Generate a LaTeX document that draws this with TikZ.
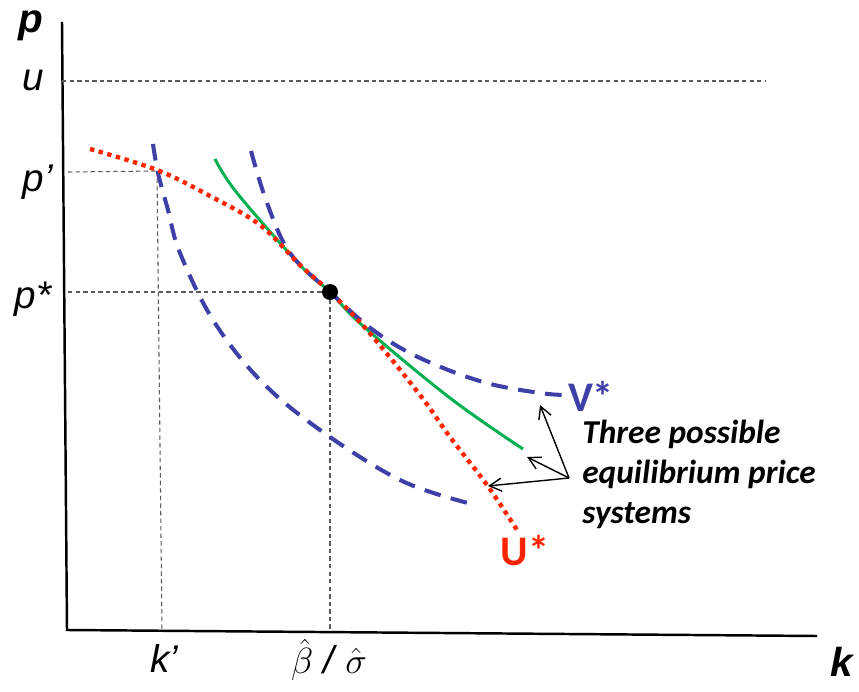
\documentclass[tikz,border=0pt]{standalone}
\usepackage{fontspec}
\setmainfont{Liberation Sans}
\newfontfamily\calfont{Carlito}
\usetikzlibrary{arrows.meta}
\definecolor{vblue}{RGB}{62,64,168}
\definecolor{ured}{RGB}{255,36,0}
\definecolor{eqgreen}{RGB}{0,176,80}
\tikzset{
  axisline/.style={line width=1.4pt},
  guideline/.style={gray!70!black, line width=0.6pt, dash pattern=on 2.5pt off 1.8pt},
  vcurve/.style={vblue, line width=2.3pt, dash pattern=on 9.5pt off 6pt},
  ucurve/.style={ured, line width=2.5pt, dash pattern=on 2.5pt off 2.6pt},
  eqcurve/.style={eqgreen, line width=1.7pt},
  pointer/.style={-{Straight Barb[length=2.4mm,width=2.6mm]}, line width=0.8pt},
  axislabel/.style={font=\fontsize{22}{26}\selectfont\itshape, inner sep=0pt},
  curvelabel/.style={font=\fontsize{21}{25}\selectfont\calfont\bfseries, inner sep=0pt}
}

\begin{document}
\begin{tikzpicture}[x=0.02cm, y=-0.02cm]
  \useasboundingbox (0,0) rectangle (859,692);
  % axes
  \coordinate (top) at (62,22);
  \coordinate (origin) at (67,630);
  \coordinate (right) at (817,636);
  \draw[axisline] (top) -- (origin) -- (right);
  \node[axislabel, font=\fontsize{23}{26}\selectfont\bfseries\itshape] (plab) at (31,26) {p};
  \node[axislabel, font=\fontsize{23}{26}\selectfont\bfseries\itshape] (klab) at (842,662) {k};
  \node[axislabel] (ulab) at (33,80) {u};
  \node[axislabel] (pplab) at (38,182) {p’};
  \node[axislabel] (pslab) at (33,299) {p*};
  \node[axislabel] (kplab) at (164,658) {k’};
  \node[axislabel] (bslab) at (329,660) {$\hat{\beta}$ / $\hat{\sigma}$};
  % guide lines
  \coordinate (eq) at (330,292);
  \coordinate (pp) at (157,171);
  \draw[guideline] (62,81) -- (765,81);
  \draw[guideline] (68,172) -- (pp);
  \draw[guideline] (pp) -- (162,630);
  \draw[guideline] (68,292) -- (eq);
  \draw[guideline] (eq) -- (330,630);
  % curves
  \draw[vcurve] plot[smooth, tension=0.6] coordinates {(153,144) (158,173) (168,210) (180,253) (213,320) (260,380) (320,430) (400,480) (468,503)};
  \draw[eqcurve] plot[smooth, tension=0.6] coordinates {(215,159) (237,193) (300,265) (330,292) (363,326) (450,398) (523,449)};
  \draw[vcurve] plot[smooth, tension=0.6] coordinates {(251,151) (267,203) (290,253) (330,292) (373,330) (420,358) (483,382) (540,393) (568,395)};
  \draw[ucurve] plot[smooth, tension=0.6] coordinates {(90,149) (157,170) (210,196) (260,225) (300,265) (330,292) (367,330) (420,395) (450,437) (487,485) (517,530)};
  \fill (eq) circle (8);
  % labels
  \node[curvelabel, vblue, font=\fontsize{24}{28}\selectfont\calfont\bfseries] (vlab) at (591,396) {V*};
  \node[curvelabel, ured, font=\fontsize{24}{28}\selectfont\calfont\bfseries] (ulabel) at (525,551) {U*};
  \node[curvelabel, font=\fontsize{19}{22.7}\selectfont\calfont\bfseries\itshape, align=left, anchor=north west] (note) at (582,420) {Three possible\\equilibrium price\\systems};
  % pointers
  \coordinate (hub) at (569,478);
  \coordinate (vtip) at (540,405);
  \coordinate (gtip) at (527,457);
  \coordinate (rtip) at (488,486);
  \draw[pointer] (hub) -- (vtip);
  \draw[pointer] (hub) -- (gtip);
  \draw[pointer] (hub) -- (rtip);
\end{tikzpicture}
\end{document}
